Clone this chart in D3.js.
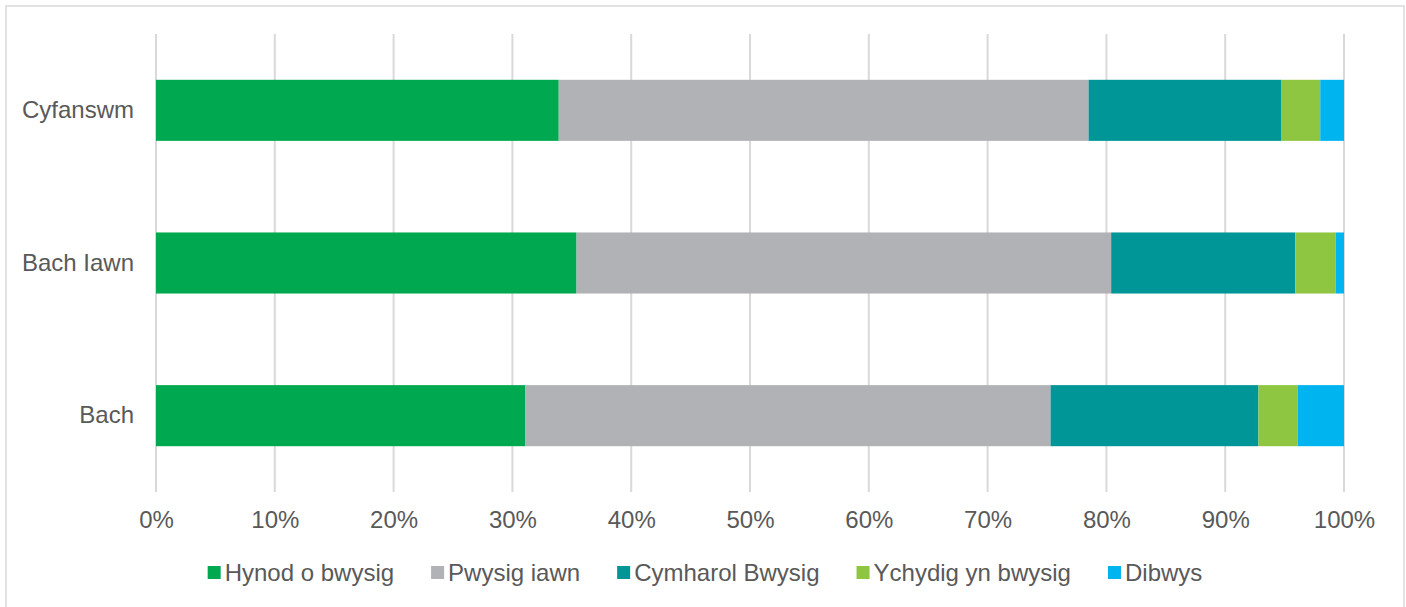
<!DOCTYPE html>
<html lang="cy">
<head>
<meta charset="utf-8">
<title>Pwysigrwydd</title>
<script src="https://d3js.org/d3.v7.min.js"></script>
<style>
  body { margin: 0; background: #fff; }
  text { font-family: "Liberation Sans", Arial, sans-serif; fill: #595959; }
  .grid line { stroke: #d9d9d9; stroke-width: 2; }
</style>
</head>
<body>
<div id="vis"></div>
<script>
// data
const categories = ["Cyfanswm", "Bach Iawn", "Bach"];
const seriesNames = ["Hynod o bwysig", "Pwysig iawn", "Cymharol Bwysig", "Ychydig yn bwysig", "Dibwys"];
const seriesColors = ["#00a94f", "#b1b2b6", "#009697", "#8fc641", "#00b4ef"];
const hynod    = [33.9, 35.4, 31.1];
const pwysig   = [44.6, 45.0, 44.2];
const cymharol = [16.2, 15.5, 17.5];
const ychydig  = [3.3, 3.4, 3.3];
const dibwys   = [2.0, 0.7, 3.9];
const tickValues = [0, 10, 20, 30, 40, 50, 60, 70, 80, 90, 100];

const width = 1406, height = 607;
const plotLeft = 156, plotRight = 1344, plotTop = 34, plotBottom = 492;
const fontSize = 24;

const rows = categories.map((c, i) => ({
  cat: c,
  vals: [hynod[i], pwysig[i], cymharol[i], ychydig[i], dibwys[i]]
}));

const svg = d3.select("#vis").append("svg")
  .attr("width", width).attr("height", height);

// outer frame
svg.append("rect")
  .attr("x", 6).attr("y", 6).attr("width", 1398).attr("height", 610)
  .attr("fill", "none").attr("stroke", "#d9d9d9").attr("stroke-width", 1.5);

const x = d3.scaleLinear().domain([0, 100]).range([plotLeft, plotRight]);
const y = d3.scaleBand().domain(categories).range([plotTop, plotBottom])
  .paddingInner(0.6).paddingOuter(0.3);

// gridlines
svg.append("g").attr("class", "grid")
  .selectAll("line").data(tickValues).join("line")
  .attr("x1", d => x(d)).attr("x2", d => x(d))
  .attr("y1", plotTop).attr("y2", plotBottom);

// stacked bars
const stack = d3.stack().keys(d3.range(seriesNames.length)).value((d, k) => d.vals[k]);
const layers = stack(rows);

svg.append("g").selectAll("g").data(layers).join("g")
  .attr("fill", (d, i) => seriesColors[i])
  .selectAll("rect").data(d => d).join("rect")
  .attr("x", d => x(d[0]))
  .attr("width", d => x(d[1]) - x(d[0]))
  .attr("y", d => y(d.data.cat))
  .attr("height", y.bandwidth());

// x tick labels
const xAxis = d3.axisBottom(x).tickValues(tickValues).tickFormat(d => d + "%").tickSize(0).tickPadding(0);
const gx = svg.append("g").attr("transform", "translate(0," + 511 + ")").call(xAxis);
gx.select(".domain").remove();
gx.selectAll("text").attr("font-size", fontSize).attr("fill", "#595959")
  .attr("font-family", "Liberation Sans, Arial, sans-serif");

// category labels
const yAxis = d3.axisLeft(y).tickSize(0).tickPadding(0);
const gy = svg.append("g").attr("transform", "translate(" + 134 + ",0)").call(yAxis);
gy.select(".domain").remove();
gy.selectAll("text").attr("font-size", fontSize).attr("fill", "#595959")
  .attr("font-family", "Liberation Sans, Arial, sans-serif");

// legend
const legend = svg.append("g");
const items = legend.selectAll("g").data(seriesNames).join("g");
items.append("rect").attr("width", 13).attr("height", 13).attr("y", -7)
  .attr("fill", (d, i) => seriesColors[i]);
items.append("text").attr("x", 17).attr("dy", "0.35em")
  .attr("font-size", fontSize).text(d => d);

let pos = 0;
items.each(function () {
  const w = this.querySelector("text").getComputedTextLength();
  d3.select(this).attr("transform", "translate(" + pos + ",0)");
  pos += 17 + w + 37;
});
const total = pos - 37;
legend.attr("transform", "translate(" + (705 - total / 2) + "," + 573 + ")");
</script>
</body>
</html>
